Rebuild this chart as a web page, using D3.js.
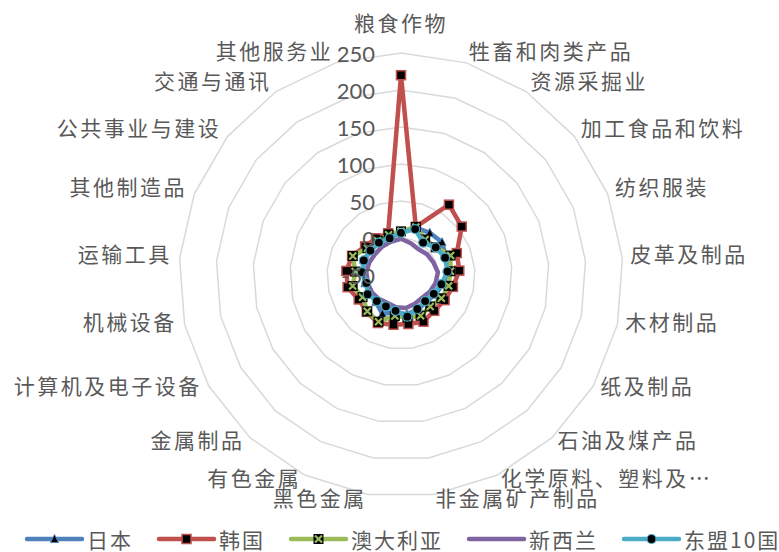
<!DOCTYPE html>
<html>
<head>
<meta charset="utf-8">
<script src="https://cdn.jsdelivr.net/npm/d3@7"></script>
<style>
    body { margin: 0; background: #fff; }
    svg { display: block; font-family: "Noto Sans CJK SC", "Noto Sans", sans-serif; }
</style>
</head>
<body>
<svg width="779" height="552"></svg>
<script>
// categories and series values
const categories = ["粮食作物", "牲畜和肉类产品", "资源采掘业", "加工食品和饮料", "纺织服装", "皮革及制品",
    "木材制品", "纸及制品", "石油及煤产品", "化学原料、塑料及…", "非金属矿产制品", "黑色金属", "有色金属",
    "金属制品", "计算机及电子设备", "机械设备", "运输工具", "其他制造品", "公共事业与建设", "交通与通讯", "其他服务业"];

const japan     = [8, 17, 19, 21, 15, 14, 8, 3, 0, 2, 4, 1, 8, 0, -4, 0, 2, 4, 3, 4, 5];
const korea     = [220, 18, 65, 55, 31, 29, 22, 18, 16, 20, 17, 18, 22, 18, 16, 24, 24, 21, 12, 10, 9];
const australia = [9, 18, 8, 10, 22, 17, 16, 13, 8, 11, 8, 6, 20, 17, 10, 17, 12, 20, 8, 6, 7];
const newZealand = [-1, -5, -8, -5, -3, 0, -2, -5, -8, -7, -5, -6, -8, -6, -4, -4, -3, -4, -5, -4, -3];
const asean     = [7, 15, 3, 10, 14, 13, 6, 1, -2, 1, 7, -1, -3, -2, 2, -2, 3, 4, 3, 3, 2];

const ticks = [-50, 0, 50, 100, 150, 200, 250];

const series = [
    { name: "日本", values: japan, color: "#4F81BD", marker: "triangle" },
    { name: "韩国", values: korea, color: "#C0504D", marker: "square" },
    { name: "澳大利亚", values: australia, color: "#9BBB59", marker: "x" },
    { name: "新西兰", values: newZealand, color: "#8064A2", marker: "none" },
    { name: "东盟10国", values: asean, color: "#4BACC6", marker: "circle" }
];

const svg = d3.select("svg");
const cx = 401, cy = 275, radius = 222;
const textColor = "#595959";

const r = d3.scaleLinear().domain([-50, 250]).range([0, radius]);
const angle = d3.scaleLinear().domain([0, categories.length]).range([0, 2 * Math.PI]);

const g = svg.append("g").attr("transform", `translate(${cx},${cy})`);

// grid rings
const ringLine = d3.lineRadial()
    .angle((d, i) => angle(i))
    .radius(d => r(d))
    .curve(d3.curveLinearClosed);

g.append("g").selectAll("path")
    .data(ticks.filter(t => t > -50))
    .enter().append("path")
    .attr("d", t => ringLine(categories.map(() => t)))
    .attr("fill", "none")
    .attr("stroke", "#D9D9D9")
    .attr("stroke-width", 1.5);

// category labels
const labelR = 230;
g.append("g").selectAll("text")
    .data(categories)
    .enter().append("text")
    .attr("x", (d, i) => labelR * Math.sin(angle(i)))
    .attr("y", (d, i) => {
        const y = -labelR * Math.cos(angle(i)) - 5;
        return Math.abs(Math.sin(angle(i))) < 0.01 ? y - 18 : y;
    })
    .attr("text-anchor", (d, i) => {
        const s = Math.sin(angle(i));
        return s > 0.01 ? "start" : (s < -0.01 ? "end" : "middle");
    })
    .attr("dominant-baseline", "central")
    .attr("font-size", 21)
    .attr("letter-spacing", 2.5)
    .attr("fill", textColor)
    .text(d => d);

// series
const line = d3.lineRadial()
    .angle((d, i) => angle(i))
    .radius(d => r(d))
    .curve(d3.curveLinearClosed);

function drawMarker(sel, type, color) {
    if (type === "square") {
        sel.append("rect")
            .attr("x", -4.5).attr("y", -4.5).attr("width", 9).attr("height", 9)
            .attr("fill", "#000").attr("stroke", color).attr("stroke-width", 1.5);
    } else if (type === "circle") {
        sel.append("circle").attr("r", 4.5)
            .attr("fill", "#000").attr("stroke", color).attr("stroke-width", 1.2);
    } else if (type === "triangle") {
        sel.append("path").attr("d", "M0,-4.5L4,3.5L-4,3.5Z")
            .attr("fill", "#000").attr("stroke", color).attr("stroke-width", 1);
    } else if (type === "x") {
        sel.append("rect")
            .attr("x", -5).attr("y", -5).attr("width", 10).attr("height", 10)
            .attr("fill", "#000");
        sel.append("path").attr("d", "M-3.5,-3.5L3.5,3.5M3.5,-3.5L-3.5,3.5")
            .attr("stroke", color).attr("stroke-width", 2.2);
    }
}

series.forEach(s => {
    const sg = g.append("g");
    sg.append("path")
        .attr("d", line(s.values))
        .attr("fill", "none")
        .attr("stroke", s.color)
        .attr("stroke-width", 4.5)
        .attr("stroke-linejoin", "round");

    sg.selectAll("g.mk")
        .data(s.values)
        .enter().append("g")
        .attr("class", "mk")
        .attr("transform", (d, i) => {
            const a = angle(i), rr = r(d);
            return `translate(${rr * Math.sin(a)},${-rr * Math.cos(a)})`;
        })
        .each(function () { drawMarker(d3.select(this), s.marker, s.color); });
});

// tick labels on the vertical axis, drawn above the series
g.append("g").selectAll("text")
    .data(ticks)
    .enter().append("text")
    .attr("x", -26)
    .attr("y", t => -r(t))
    .attr("text-anchor", "end")
    .attr("dominant-baseline", "central")
    .attr("font-family", "Lato, 'Open Sans', sans-serif")
    .attr("font-size", 22)
    .attr("fill", textColor)
    .text(t => t);

// legend
const legend = svg.append("g").attr("transform", "translate(0,539)");
let lx = 27;
series.forEach(s => {
    const item = legend.append("g").attr("transform", `translate(${lx},0)`);
    item.append("line")
        .attr("x1", 0).attr("x2", 55)
        .attr("stroke", s.color).attr("stroke-width", 4.5)
        .attr("stroke-linecap", "round");
    const mk = item.append("g").attr("transform", "translate(27.5,0)");
    drawMarker(mk, s.marker, s.color);
    const txt = item.append("text")
        .attr("x", 60)
        .attr("dominant-baseline", "central")
        .attr("font-size", 21)
        .attr("letter-spacing", 2)
        .attr("fill", textColor)
        .text(s.name);
    lx += 60 + txt.node().getComputedTextLength() + 26;
});
</script>
</body>
</html>
